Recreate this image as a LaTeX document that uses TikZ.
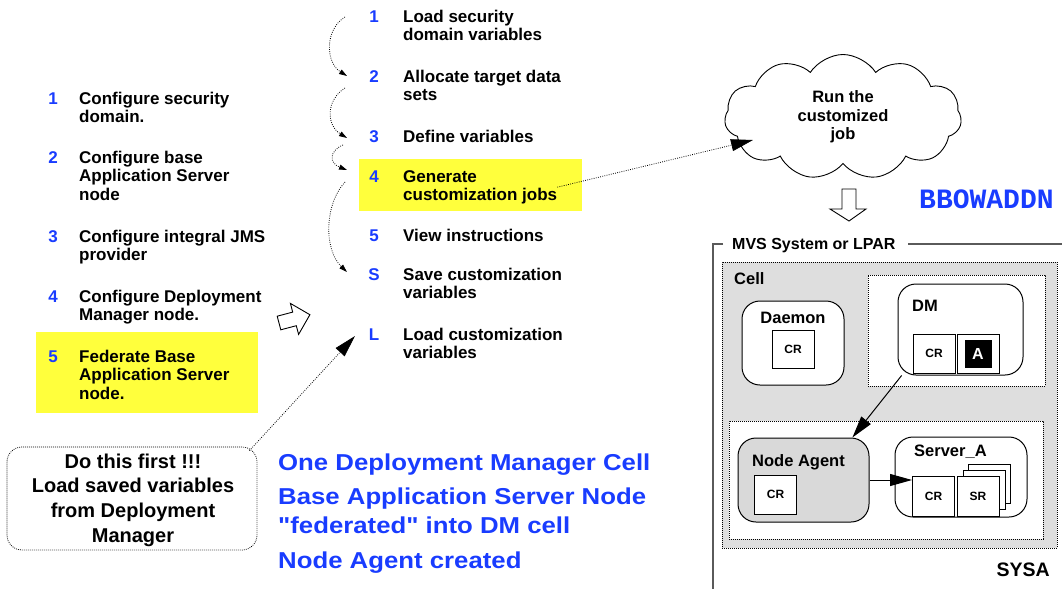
\documentclass[tikz,border=0pt]{standalone}
\usepackage{fontspec}
\setmainfont{Liberation Sans}
\newfontfamily\bluefont{Liberation Sans}
\newfontfamily\monob{Liberation Mono}
\usetikzlibrary{arrows.meta,shapes.symbols,calc}
\definecolor{mblue}{RGB}{25,60,255}
\definecolor{hlyellow}{RGB}{255,255,60}
\definecolor{nagray}{RGB}{217,217,217}
\definecolor{cellgray}{RGB}{222,222,222}
\definecolor{framegray}{RGB}{90,90,90}
\tikzset{
  item/.style={font=\fontsize{17}{18.7}\selectfont\bfseries, align=left, anchor=base west, inner sep=0pt},
  num/.style={font=\fontsize{17}{18.7}\selectfont\bfseries, text=mblue, anchor=base, inner sep=0pt},
  hl/.style={fill=hlyellow, draw=none, inner sep=0pt},
  lbl/.style={font=\fontsize{16.5}{18}\selectfont\bfseries, inner sep=0pt, anchor=base west},
  bluetxt/.style={font=\bluefont\fontsize{23}{26}\selectfont\bfseries, text=mblue, inner sep=0pt, anchor=base west},
  rbox/.style={draw, line width=1pt, rounded corners=18pt, inner sep=0pt, fill=white},
  sq/.style={draw, line width=1pt, fill=white, inner sep=0pt, minimum width=42pt, minimum height=39pt, font=\fontsize{12}{12}\selectfont\bfseries},
  zone/.style={draw, line width=0.8pt, dash pattern=on 0.8pt off 1.2pt, inner sep=0pt},
  dots/.style={line width=0.8pt, dash pattern=on 0.8pt off 1.4pt},
  smalltip/.style={-{Triangle[length=8pt,width=5pt]}},
  bigtip/.style={-{Triangle[length=22pt,width=12pt]}},
}
\begin{document}
\begin{tikzpicture}[x=1pt,y=-1pt]
\useasboundingbox (0,0) rectangle (1062,589);

% ---------- left list (node base = baseline of last line) ----------
\node[hl, minimum width=222pt, minimum height=81pt] (hl5) at (147,372.5) {};
\node[num] (ln1) at (53,104) {1};
\node[item] (l1) at (79,122.7) {Configure security\\domain.};
\node[num] (ln2) at (53,163) {2};
\node[item] (l2) at (79,200.4) {Configure base\\Application Server\\node};
\node[num] (ln3) at (53,242) {3};
\node[item] (l3) at (79,260.7) {Configure integral JMS\\provider};
\node[num] (ln4) at (53,302) {4};
\node[item] (l4) at (79,320.7) {Configure Deployment\\Manager node.};
\node[num] (ln5) at (53,362) {5};
\node[item] (l5) at (79,399.4) {Federate Base\\Application Server\\node.};

% ---------- middle list ----------
\node[hl, minimum width=223pt, minimum height=52pt] (hl4) at (470.5,185) {};
\node[num] (mn1) at (374,22) {1};
\node[item] (m1) at (403,40.7) {Load security\\domain variables};
\node[num] (mn2) at (374,82) {2};
\node[item] (m2) at (403,100.7) {Allocate target data\\sets};
\node[num] (mn3) at (374,142) {3};
\node[item] (m3) at (403,142) {Define variables};
\node[num] (mn4) at (374,182) {4};
\node[item] (m4) at (403,200.7) {Generate\\customization jobs};
\node[num] (mn5) at (374,241) {5};
\node[item] (m5) at (403,241) {View instructions};
\node[num] (mnS) at (374,280) {S};
\node[item] (mS) at (403,298.7) {Save customization\\variables};
\node[num] (mnL) at (374,340) {L};
\node[item] (mL) at (403,358.7) {Load customization\\variables};

% curved dotted arrows
\coordinate (c1a) at (345,17);  \coordinate (c1b) at (347,76);
\coordinate (c2a) at (345,88);  \coordinate (c2b) at (347,138);
\coordinate (c3a) at (343,145); \coordinate (c3b) at (347,170);
\coordinate (c4a) at (345,182); \coordinate (c4b) at (347,272);
\draw[dots, smalltip] (c1a) .. controls (325,29) and (325,62) .. (c1b);
\draw[dots, smalltip] (c2a) .. controls (326,100) and (326,125) .. (c2b);
\draw[dots, smalltip] (c3a) .. controls (329,151) and (329,163) .. (c3b);
\draw[dots, smalltip] (c4a) .. controls (324,205) and (324,250) .. (c4b);

% tilted hollow arrow
\draw[line width=0.9pt, fill=white] (277.2,316.2) -- (292.7,312.1) -- (290.4,303.4) -- (309.9,314.7) -- (298.6,334.4) -- (296.3,325.7) -- (280.8,329.8) -- cycle;

% ---------- do this first ----------
\node[zone, rounded corners=15pt, minimum width=250pt, minimum height=103pt] (first) at (132,498.5) {};
\node[font=\fontsize{20}{24.7}\selectfont\bfseries, align=center, anchor=base, inner sep=0pt] (firsttxt) at (133,542.1) {Do this first !!!\\Load saved variables\\from Deployment\\Manager};
\coordinate (lin) at (355,336);
\draw[dots, bigtip] ([xshift=-8pt,yshift=-4pt]first.north east) -- (lin);

% ---------- blue summary ----------
\node[bluetxt] (b1) at (278,470) {\scalebox{1.12}[1]{One Deployment Manager Cell}};
\node[bluetxt] (b2) at (278,504) {\scalebox{1.12}[1]{Base Application Server Node}};
\node[bluetxt] (b3) at (278,533) {\scalebox{1.12}[1]{"federated" into DM cell}};
\node[bluetxt] (b4) at (278,568) {\scalebox{1.12}[1]{Node Agent created}};

% ---------- cloud ----------
\node[cloud, draw, line width=0.9pt, cloud puffs=11, cloud puff arc=115, aspect=1.9, minimum width=237pt, minimum height=125pt, inner sep=0pt, align=center, font=\fontsize{16.5}{18.7}\selectfont\bfseries] (cloud) at (843,117) {Run the\\customized\\job};
\coordinate (cin) at (753,140);
\draw[dots, bigtip] (m4.east) -- (cin);

% down hollow arrow
\draw[line width=0.9pt, fill=white] (842,189) -- (856,189) -- (856,209) -- (866,209) -- (849,221) -- (830,209) -- (842,209) -- cycle;

\node[font=\monob\fontsize{28}{28}\selectfont\bfseries, text=mblue, anchor=base west, inner sep=0pt] (bbo) at (919,208) {BBOWADDN};

% ---------- MVS frame ----------
\node[lbl, font=\fontsize{16}{18}\selectfont\bfseries] (mvs) at (732,249) {MVS System or LPAR};
\draw[line width=1.3pt, framegray] (723,244) -- (713,244) -- (713,589);
\draw[line width=1.3pt, framegray] (908,244) -- (1062,244);

\node[zone, fill=cellgray, minimum width=335pt, minimum height=286pt] (cell) at (889.5,405) {};
\node[lbl] (celllbl) at (734,284) {Cell};

\node[zone, fill=white, minimum width=177pt, minimum height=111pt] (dmzone) at (956.5,330.5) {};
\node[zone, fill=white, minimum width=314pt, minimum height=118pt] (nazone) at (886,480) {};

% Daemon
\node[rbox, minimum width=102pt, minimum height=84pt] (daemon) at (793,343) {};
\node[lbl, anchor=base] (daemonlbl) at (793,323) {Daemon};
\node[sq, minimum height=38pt] (dcr) at (793,349) {CR};

% DM
\node[rbox, minimum width=125pt, minimum height=91pt] (dm) at (960.5,329.5) {};
\node[lbl] (dmlbl) at (912,311) {DM};
\node[sq] (dmcr) at (934,353.5) {CR};
\node[sq] (dma) at (978,353.5) {};
\node[fill=black, minimum width=27pt, minimum height=28pt, inner sep=0pt, text=white, font=\fontsize{16}{16}\selectfont\bfseries] (dmablk) at (dma.center) {A};

% Node Agent
\node[rbox, fill=nagray, minimum width=131pt, minimum height=84pt] (na) at (803.5,480) {};
\node[lbl] (nalbl) at (752,466) {Node Agent};
\node[sq] (nacr) at (775.5,494.5) {CR};

% Server_A
\node[rbox, minimum width=132pt, minimum height=80pt] (sa) at (961,477) {};
\node[lbl] (salbl) at (914,456) {Server\_A};
\node[sq] (sap3) at (989.5,483.5) {};
\node[sq] (sap2) at (984,490) {};
\node[sq, minimum height=40pt] (sacr) at (933.5,496) {CR};
\node[sq, minimum height=40pt] (sasr) at (978,496) {SR};

% connectors
\draw[line width=1pt, bigtip] (dm.-142) -- (na.41);
\draw[line width=1pt, bigtip] (na.east) -- (na.east -| sacr.west);

\node[font=\fontsize{19.5}{20}\selectfont\bfseries, anchor=base east, inner sep=0pt] (sysa) at (1050,576) {SYSA};
\end{tikzpicture}
\end{document}
